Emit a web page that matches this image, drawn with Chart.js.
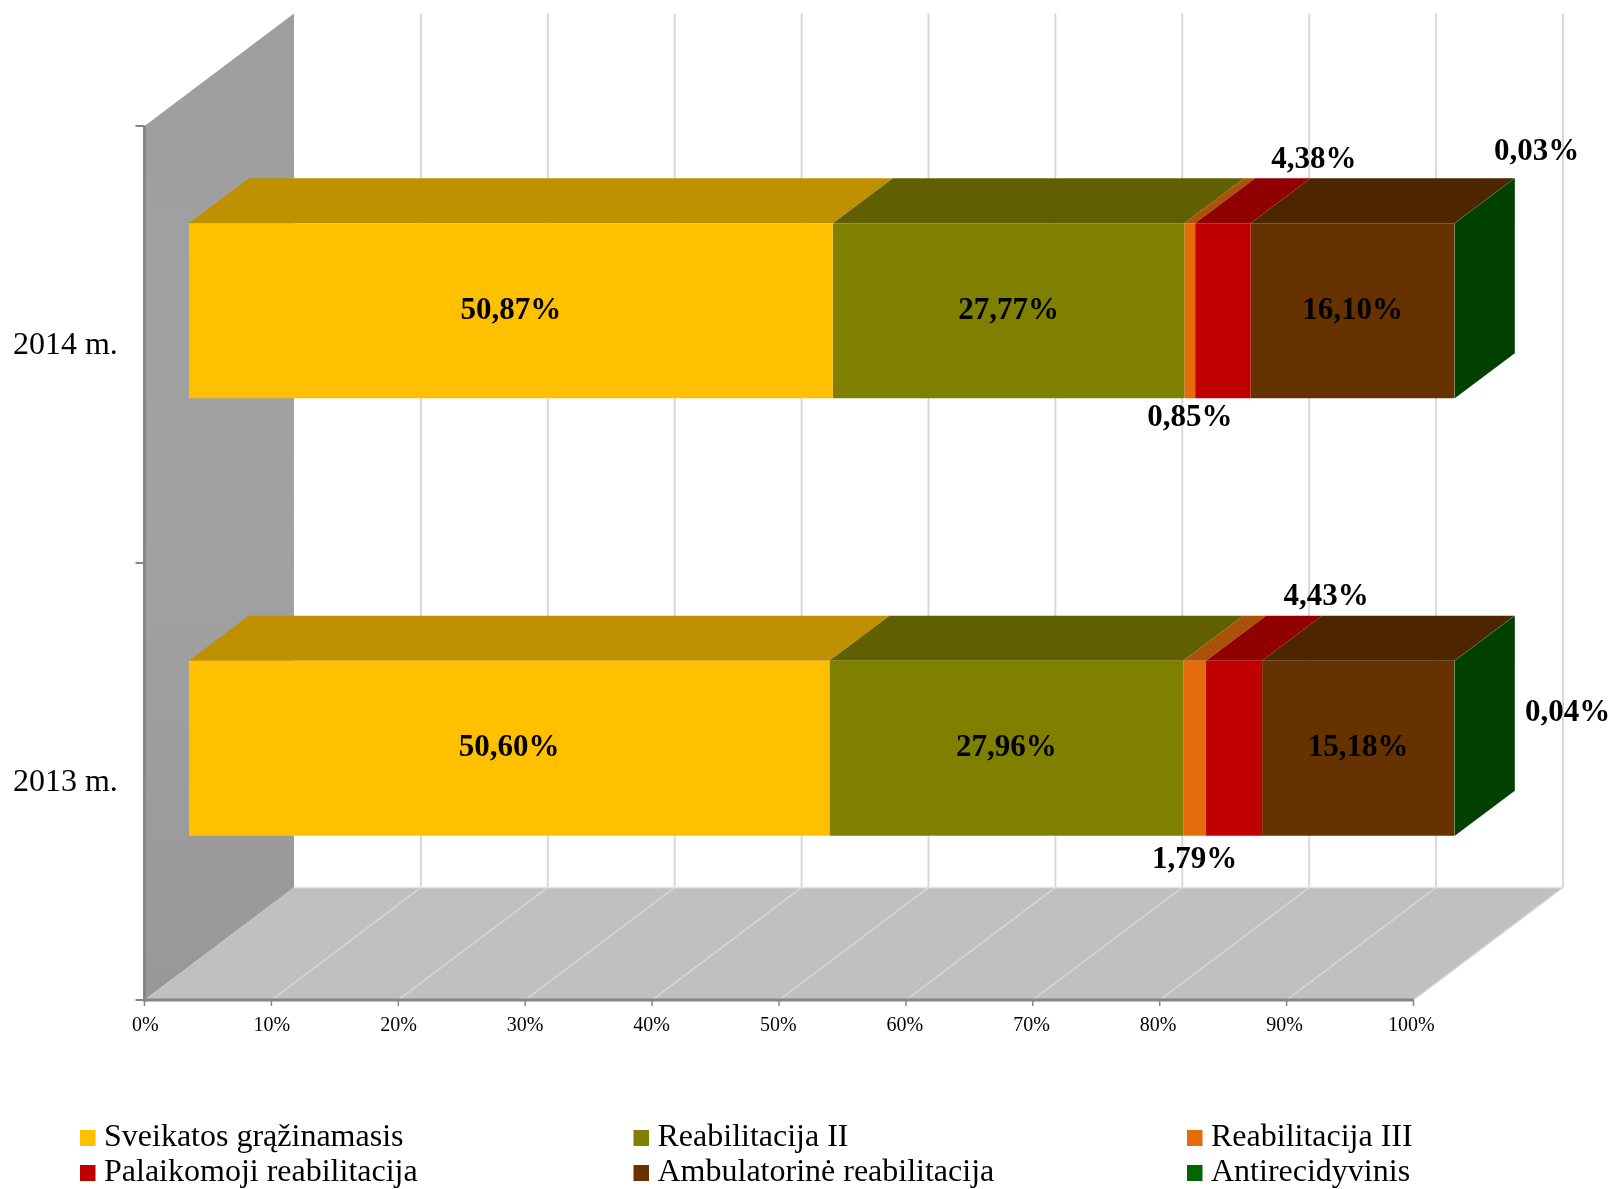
<!DOCTYPE html>
<html>
<head>
<meta charset="utf-8">
<script src="https://cdn.jsdelivr.net/npm/chart.js@4/dist/chart.umd.min.js"></script>
<style>
html, body { margin: 0; padding: 0; background: #fff; }
#wrap { position: relative; width: 1617px; height: 1189px; overflow: hidden; }
</style>
</head>
<body>
<div id="wrap"><canvas id="chart" width="1617" height="1189"></canvas></div>
<script>
const years = ['2014 m.', '2013 m.']
const seriesNames = ['Sveikatos grąžinamasis', 'Reabilitacija II', 'Reabilitacija III', 'Palaikomoji reabilitacija', 'Ambulatorinė reabilitacija', 'Antirecidyvinis']
const sveikatos = [50.87, 50.60]
const reabII = [27.77, 27.96]
const reabIII = [0.85, 1.79]
const palaikomoji = [4.38, 4.43]
const ambulatorine = [16.10, 15.18]
const antirecidyvinis = [0.03, 0.04]
const seriesValues = [sveikatos, reabII, reabIII, palaikomoji, ambulatorine, antirecidyvinis]

const frontColors = ['#FFC000', '#808000', '#E46C0A', '#C00000', '#663300', '#006600']
const topColors = ['#BF9000', '#606000', '#AB5108', '#900000', '#4D2600', '#004000']
const sideColor = '#004000'

// where the small values sit relative to their segment, [x, y] from the bar centre
const labelShifts = [
    [[0, 0], [0, 0]],
    [[0, 0], [0, 0]],
    [[0, 107], [0, 112]],
    [[91, -151], [92, -151]],
    [[0, 0], [0, 0]],
    [[82, -159], [113, -35]]
]

const FONT = '"Liberation Serif", "Times New Roman", serif'
const barDepth = { x: 60, y: -45 }
// the walls are a bit offset from the plane the bars stand in
const wall = { left: 144.5, right: 1413.5, top: 126, bottom: 1000, dx: 149.5, dy: -112.5 }

function poly(ctx, pts, fill) {
    ctx.beginPath()
    ctx.moveTo(pts[0][0], pts[0][1])
    for (let p of pts.slice(1)) ctx.lineTo(p[0], p[1])
    ctx.closePath()
    ctx.fillStyle = fill
    ctx.fill()
}

function line(ctx, x1, y1, x2, y2, color, width) {
    ctx.beginPath()
    ctx.moveTo(x1, y1)
    ctx.lineTo(x2, y2)
    ctx.strokeStyle = color
    ctx.lineWidth = width
    ctx.stroke()
}

const walls3d = {
    id: 'walls3d',
    beforeDraw(chart) {
        const ctx = chart.ctx
        const x = chart.scales.x
        const w = wall
        const backTop = w.top + w.dy
        const backBottom = w.bottom + w.dy
        const toFront = v => w.left + (x.getPixelForValue(v) - x.left) * (w.right - w.left) / x.width
        const gridVals = x.ticks.map(t => t.value)

        ctx.save()
        // side wall
        const grad = ctx.createLinearGradient(0, backTop, 0, w.bottom)
        grad.addColorStop(0, '#9E9E9E')
        grad.addColorStop(0.5, '#A2A2A2')
        grad.addColorStop(1, '#989898')
        poly(ctx, [[w.left, w.top], [w.left + w.dx, backTop], [w.left + w.dx, backBottom], [w.left, w.bottom]], grad)

        // back wall grid
        for (let v of gridVals) {
            if (v === 0) continue
            const bx = toFront(v) + w.dx
            line(ctx, bx, backTop, bx, backBottom, '#D9D9D9', 2)
        }

        // floor
        poly(ctx, [[w.left, w.bottom], [w.right, w.bottom], [w.right + w.dx, backBottom], [w.left + w.dx, backBottom]], '#C0C0C0')
        for (let v of gridVals) {
            if (v === 0) continue
            const fx = toFront(v)
            line(ctx, fx, w.bottom, fx + w.dx, backBottom, '#D9D9D9', 1.5)
        }
        line(ctx, w.left + w.dx, backBottom, w.right + w.dx, backBottom, '#E4E4E4', 1.5)

        // axis lines and ticks
        line(ctx, w.left, w.top, w.left, w.bottom + 1.5, '#868686', 3)
        line(ctx, w.left, w.bottom, w.right, w.bottom, '#868686', 3)
        for (let v of gridVals) {
            const fx = toFront(v)
            line(ctx, fx, w.bottom, fx, w.bottom + 6, '#868686', 1.5)
        }
        const yTicks = [w.top, (w.top + w.bottom) / 2, w.bottom]
        for (let ty of yTicks) line(ctx, w.left - 9, ty, w.left, ty, '#868686', 2)
        ctx.restore()
    },
    beforeDatasetsDraw(chart) {
        const ctx = chart.ctx
        const d = barDepth
        ctx.save()
        chart.data.datasets.forEach((ds, i) => {
            chart.getDatasetMeta(i).data.forEach(bar => {
                const top = bar.y - bar.height / 2
                poly(ctx, [[bar.base, top], [bar.x, top], [bar.x + d.x, top + d.y], [bar.base + d.x, top + d.y]], topColors[i])
            })
        })
        // end cap of the stack
        const last = chart.getDatasetMeta(chart.data.datasets.length - 1).data
        for (let bar of last) {
            const top = bar.y - bar.height / 2
            const bottom = bar.y + bar.height / 2
            poly(ctx, [[bar.x, top], [bar.x + d.x, top + d.y], [bar.x + d.x, bottom + d.y], [bar.x, bottom]], sideColor)
        }
        ctx.restore()
    },
    afterDraw(chart) {
        const ctx = chart.ctx
        ctx.save()
        // value labels
        ctx.font = 'bold 31px ' + FONT
        ctx.fillStyle = '#000'
        ctx.textAlign = 'center'
        ctx.textBaseline = 'middle'
        chart.data.datasets.forEach((ds, i) => {
            chart.getDatasetMeta(i).data.forEach((bar, j) => {
                const s = labelShifts[i][j]
                const text = ds.data[j].toFixed(2).replace('.', ',') + '%'
                ctx.fillText(text, (bar.base + bar.x) / 2 + s[0], bar.y + s[1])
            })
        })
        // legend, three columns
        ctx.font = '32px ' + FONT
        ctx.textAlign = 'left'
        chart.data.datasets.forEach((ds, i) => {
            const col = i % 3
            const row = Math.floor(i / 3)
            const lx = 80 + col * 553.5
            const ly = 1138 + row * 35
            ctx.fillStyle = ds.backgroundColor
            ctx.fillRect(lx, ly - 8, 15.5, 16)
            ctx.fillStyle = '#000'
            ctx.fillText(ds.label, lx + 24, ly)
        })
        ctx.restore()
    }
}

new Chart(document.getElementById('chart'), {
    type: 'bar',
    data: {
        labels: years,
        datasets: seriesNames.map((name, i) => ({
            label: name,
            data: seriesValues[i],
            backgroundColor: frontColors[i],
            borderWidth: 0,
            categoryPercentage: 1,
            barPercentage: 0.4
        }))
    },
    options: {
        indexAxis: 'y',
        responsive: false,
        animation: false,
        layout: { padding: { left: 0, top: 0, right: 162.2, bottom: 0 } },
        plugins: {
            legend: { display: false },
            tooltip: { enabled: false },
            title: {
                display: true,
                text: '2013 m. ir 2014 m.',
                color: '#005C00',
                font: { family: FONT, size: 48, weight: 'bold', lineHeight: 1 },
                padding: { top: -36, bottom: 79.9 }
            }
        },
        scales: {
            x: {
                stacked: true,
                min: 0,
                max: 100,
                grid: { display: false, drawTicks: false },
                border: { display: false },
                ticks: {
                    stepSize: 10,
                    autoSkip: false,
                    maxRotation: 0,
                    color: '#000',
                    padding: 47,
                    labelOffset: -43.5,
                    font: { family: FONT, size: 20 },
                    callback: v => v + '%'
                },
                afterFit: s => { s.height = 222.1 }
            },
            y: {
                stacked: true,
                grid: { display: false, drawTicks: false },
                border: { display: false },
                ticks: {
                    color: '#000',
                    padding: 71,
                    labelOffset: 34.5,
                    font: { family: FONT, size: 32 }
                },
                afterFit: s => { s.width = 188.8 }
            }
        }
    },
    plugins: [walls3d]
})
</script>
</body>
</html>
